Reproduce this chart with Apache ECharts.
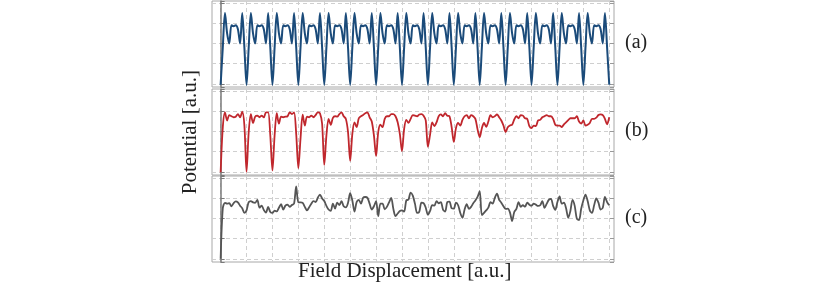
<!DOCTYPE html>
<html><head><meta charset="utf-8">
<script src="https://cdn.jsdelivr.net/npm/echarts@6/dist/echarts.min.js"></script>
<style>html,body{margin:0;padding:0;background:#fff}#c{width:831px;height:292px}</style>
</head><body><div id="c"></div>
<script>
// x positions in 1/12 of a grid cell
const xSteps = [0,1,2,3,4,5,6,7,8,9,10,11,12,13,14,15,16,17,18,19,20,21,22,23,24,25,26,27,28,29,30,31,32,33,34,35,36,37,38,39,40,41,42,43,44,45,46,47,48,49,50,51,52,53,54,55,56,57,58,59,60,61,62,63,64,65,66,67,68,69,70,71,72,73,74,75,76,77,78,79,80,81,82,83,84,85,86,87,88,89,90,91,92,93,94,95,96,97,98,99,100,101,102,103,104,105,106,107,108,109,110,111,112,113,114,115,116,117,118,119,120,121,122,123,124,125,126,127,128,129,130,131,132,133,134,135,136,137,138,139,140,141,142,143,144,145,146,147,148,149,150,151,152,153,154,155,156,157,158,159,160,161,162,163,164,165,166,167,168,169,170,171,172,173,174,175,176,177,178,179,180];

const seriesA = [
-0.05,1.8,3.5,2.5,2.0,2.9,2.85,2.9,2.7,2.0,3.5,1.8,
-0.05,1.8,3.5,2.5,2.0,2.9,2.85,2.9,2.7,2.0,3.5,1.8,
-0.05,1.8,3.5,2.5,2.0,2.9,2.85,2.9,2.7,2.0,3.5,1.8,
-0.05,1.8,3.5,2.5,2.0,2.9,2.85,2.9,2.7,2.0,3.5,1.8,
-0.05,1.8,3.5,2.5,2.0,2.9,2.85,2.9,2.7,2.0,3.5,1.8,
-0.05,1.8,3.5,2.5,2.0,2.9,2.85,2.9,2.7,2.0,3.5,1.8,
-0.05,1.8,3.5,2.5,2.0,2.9,2.85,2.9,2.7,2.0,3.5,1.8,
-0.05,1.8,3.5,2.5,2.0,2.9,2.85,2.9,2.7,2.0,3.5,1.8,
-0.05,1.8,3.5,2.5,2.0,2.9,2.85,2.9,2.7,2.0,3.5,1.8,
-0.05,1.8,3.5,2.5,2.0,2.9,2.85,2.9,2.7,2.0,3.5,1.8,
-0.05,1.8,3.5,2.5,2.0,2.9,2.85,2.9,2.7,2.0,3.5,1.8,
-0.05,1.8,3.5,2.5,2.0,2.9,2.85,2.9,2.7,2.0,3.5,1.8,
-0.05,1.8,3.5,2.5,2.0,2.9,2.85,2.9,2.7,2.0,3.5,1.8,
-0.05,1.8,3.5,2.5,2.0,2.9,2.85,2.9,2.7,2.0,3.5,1.8,
-0.05,1.8,3.5,2.5,2.0,2.9,2.85,2.9,2.7,2.0,3.5,1.8,
-0.05
];

const seriesB = [
-0.02,2.2,2.94,2.54,2.81,2.75,2.70,2.73,2.86,2.70,2.98,2.30,
0.0,1.97,2.86,2.41,2.73,2.78,2.70,2.78,2.70,2.94,2.94,1.80,
0.06,1.80,2.90,2.38,2.73,2.70,2.73,2.75,2.94,2.86,2.94,1.88,
0.18,1.64,2.83,2.29,2.73,2.70,2.78,2.70,2.81,2.94,2.90,2.38,
0.34,1.80,2.62,2.33,2.67,2.75,2.73,2.86,2.94,2.75,2.62,1.97,
0.54,1.88,2.45,2.21,2.65,2.75,2.81,2.90,2.94,2.70,2.49,1.80,
0.78,1.97,2.33,2.21,2.62,2.75,2.75,2.86,2.86,2.75,2.45,1.88,
1.02,2.13,2.57,2.42,2.62,2.81,2.78,2.75,2.84,2.86,2.78,2.54,
1.24,1.83,2.45,2.26,2.45,2.75,2.84,2.75,2.90,2.78,2.75,2.21,
1.48,2.16,2.42,2.29,2.57,2.75,2.81,2.65,2.81,2.75,2.62,2.10,
1.72,2.16,2.42,2.23,2.49,2.81,2.70,2.75,2.84,2.70,2.54,2.29,
1.97,2.20,2.29,2.33,2.59,2.75,2.65,2.81,2.78,2.65,2.62,2.26,
2.16,2.29,2.26,2.54,2.57,2.70,2.75,2.81,2.75,2.75,2.62,2.33,
2.29,2.29,2.21,2.35,2.45,2.56,2.65,2.65,2.65,2.75,2.49,2.39,
2.54,2.29,2.33,2.42,2.62,2.62,2.68,2.81,2.84,2.81,2.62,2.35,
2.70
];

const seriesC = [
0.0,2.5,2.77,2.73,2.75,2.60,2.75,2.84,2.79,2.63,2.50,2.27,
2.40,2.81,2.86,2.79,2.77,2.92,2.53,2.63,2.42,2.29,2.57,2.32,
2.27,2.38,2.35,2.53,2.70,2.44,2.63,2.68,2.57,2.66,2.73,3.58,
2.79,2.79,2.77,2.57,2.40,2.55,2.73,2.86,2.81,3.02,3.18,2.99,
2.86,2.62,2.44,2.37,2.73,2.48,2.78,2.66,2.86,2.60,2.55,2.77,
3.25,2.89,2.34,2.81,2.92,2.73,3.02,3.06,3.02,2.73,2.44,2.60,
2.86,2.11,2.73,2.73,2.45,2.57,2.79,3.02,2.47,2.11,2.24,2.37,
2.40,2.34,2.89,2.93,3.28,3.13,2.73,2.27,2.32,2.78,2.76,2.53,
2.18,2.37,2.65,2.63,2.86,2.75,2.81,2.44,2.34,2.81,2.83,2.50,
2.48,2.78,2.65,2.27,2.03,2.44,2.70,2.47,2.57,2.75,2.89,3.06,
3.35,2.16,2.27,2.40,2.53,2.81,2.73,3.02,3.22,2.92,2.78,2.60,
2.47,2.48,2.30,1.87,2.32,2.47,2.81,2.57,2.65,2.58,2.78,2.68,
2.63,2.73,2.68,2.62,2.65,2.86,2.52,2.72,2.92,2.97,2.62,2.42,
2.81,3.09,2.73,2.78,2.50,2.03,2.37,2.92,2.62,1.98,1.92,2.48,
2.89,3.18,2.86,2.40,2.27,2.65,2.99,2.78,2.44,2.53,3.06,2.81,
2.65
];

const panelLabels = ['(a)', '(b)', '(c)'];
const yTitle = 'Potential [a.u.]';
const xTitle = 'Field Displacement [a.u.]';

const panelSeries = [seriesA, seriesB, seriesC];
const panelColors = ['#1b4b7a', '#c0272d', '#555555'];
const panelTops = [1, 89, 176];
const panelH = 86;
const FONT = '"Liberation Serif", "DejaVu Serif", serif';

const grids = [], xAxes = [], yAxes = [], series = [], graphics = [];
panelTops.forEach((top, i) => {
  grids.push({left: 212, width: 402, top: top, height: panelH, show: true,
    borderColor: '#a8a8a8', borderWidth: 1, backgroundColor: 'transparent'});
  xAxes.push({gridIndex: i, type: 'value', min: -4, max: 182.2, minInterval: 12, maxInterval: 12,
    axisLabel: {show: false}, axisLine: {show: false}, axisTick: {show: false},
    splitLine: {show: true, showMinLine: false, showMaxLine: false,
      lineStyle: {type: [4, 3], color: '#cfcfcf', width: 1}}});
  yAxes.push({gridIndex: i, type: 'value', position: 'left', min: -0.16, max: 4.1, minInterval: 1, maxInterval: 1,
    axisLabel: {show: false},
    axisLine: {show: true, lineStyle: {color: '#7a7a7a', width: 1.5}},
    axisTick: {show: true, inside: true, length: 4, lineStyle: {color: '#7a7a7a'}},
    splitLine: {show: true, showMinLine: false, showMaxLine: false,
      lineStyle: {type: [4, 3], color: '#cfcfcf', width: 1}}});
  yAxes.push({gridIndex: i, type: 'value', position: 'right', min: -0.16, max: 4.1, minInterval: 1, maxInterval: 1,
    axisLabel: {show: false}, axisLine: {show: false},
    axisTick: {show: true, inside: true, length: 4, lineStyle: {color: '#999'}},
    splitLine: {show: false}});
  series.push({type: 'line', xAxisIndex: i, yAxisIndex: i * 2,
    data: xSteps.map((x, k) => [x, panelSeries[i][k]]),
    showSymbol: false, smooth: 0.3, animation: false,
    lineStyle: {color: panelColors[i], width: i === 0 ? 2 : 1.8}});
  graphics.push({type: 'text', left: 625, top: top + panelH / 2 - 11,
    style: {text: panelLabels[i], font: '20px ' + FONT, fill: '#222'}});
});
graphics.push({type: 'text', left: 180, top: 70, rotation: Math.PI / 2,
  style: {text: yTitle, font: '21px ' + FONT, fill: '#222'}});
graphics.push({type: 'text', left: 298, top: 261,
  style: {text: xTitle, font: '21px ' + FONT, fill: '#222'}});

const chart = echarts.init(document.getElementById('c'), null, {renderer: 'canvas'});
chart.setOption({animation: false, grid: grids, xAxis: xAxes, yAxis: yAxes, series: series, graphic: graphics});
</script>
</body></html>
